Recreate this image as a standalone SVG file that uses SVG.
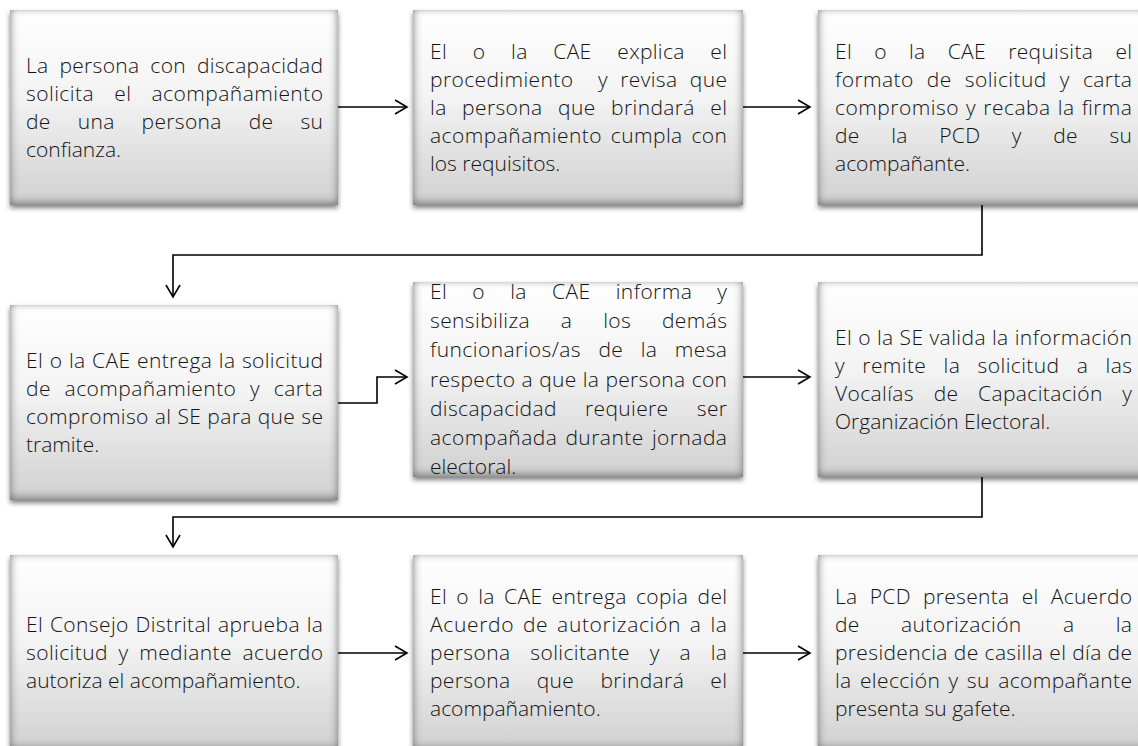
<svg xmlns="http://www.w3.org/2000/svg" width="1138" height="746" viewBox="0 0 1138 746">
<style>
.box{fill:url(#g);filter:url(#bx)}
.t{font-family:"Open Sans","Liberation Sans",sans-serif;font-size:21px;font-weight:300;fill:#141414}
.c{fill:none;stroke:#000;stroke-width:1.6;marker-end:url(#ah)}
</style>
<defs>
<linearGradient id="g" x1="0" y1="0" x2="0" y2="1">
<stop offset="0" stop-color="#ffffff"/>
<stop offset="0.45" stop-color="#f3f3f3"/>
<stop offset="1" stop-color="#d0d0d0"/>
</linearGradient>
<filter id="bx" x="-0.06" y="-0.1" width="1.12" height="1.22" color-interpolation-filters="sRGB">
<feGaussianBlur in="SourceAlpha" stdDeviation="2.5" result="b"/>
<feOffset in="b" dx="0" dy="3" result="ob"/>
<feFlood flood-color="#000" flood-opacity="0.5" result="c"/>
<feComposite in="c" in2="ob" operator="in" result="shadow"/>
<feComponentTransfer in="SourceAlpha" result="inv"><feFuncA type="table" tableValues="1 0"/></feComponentTransfer>
<feGaussianBlur in="inv" stdDeviation="4" result="ib"/>
<feOffset in="ib" dx="0" dy="-2" result="iob"/>
<feFlood flood-color="#6a6a6a" flood-opacity="0.9" result="c2"/>
<feComposite in="c2" in2="iob" operator="in" result="ish"/>
<feComposite in="ish" in2="SourceAlpha" operator="in" result="inner"/>
<feMerge><feMergeNode in="shadow"/><feMergeNode in="SourceGraphic"/><feMergeNode in="inner"/></feMerge>
</filter>
<marker id="ah" markerUnits="userSpaceOnUse" markerWidth="16" markerHeight="18" refX="13" refY="8" orient="auto">
<path d="M1,1 L13,8 L1,15" fill="none" stroke="#000" stroke-width="1.6"/>
</marker>
</defs>
<rect width="1138" height="746" fill="#fff"/>

<g id="n1">
<rect class="box" x="10" y="10" width="328" height="195"/>
<text class="t"><tspan x="26" y="72.5" word-spacing="5.1" textLength="297" lengthAdjust="spacing">La persona con discapacidad</tspan><tspan x="26" y="100.5" word-spacing="14.3" textLength="297" lengthAdjust="spacing">solicita el acompañamiento</tspan><tspan x="26" y="128.5" word-spacing="21.2" textLength="297" lengthAdjust="spacing">de una persona de su</tspan><tspan x="26" y="156.5">confianza.</tspan></text>
</g>

<g id="n2">
<rect class="box" x="413" y="10" width="330" height="195"/>
<text class="t"><tspan x="430" y="58.5" word-spacing="19.9" textLength="297" lengthAdjust="spacing">El o la CAE explica el</tspan></text>
<text class="t" xml:space="preserve"><tspan x="430" y="86.5" word-spacing="6.4" textLength="297" lengthAdjust="spacing">procedimiento  y revisa que</tspan></text>
<text class="t"><tspan x="430" y="114.5" word-spacing="9.6" textLength="297" lengthAdjust="spacing">la persona que brindará el</tspan><tspan x="430" y="142.5" word-spacing="2.8" textLength="297" lengthAdjust="spacing">acompañamiento cumpla con</tspan><tspan x="430" y="170.5">los requisitos.</tspan></text>
</g>

<g id="n3">
<rect class="box" x="818" y="10" width="330" height="195"/>
<text class="t"><tspan x="835" y="58.5" word-spacing="16.4" textLength="297" lengthAdjust="spacing">El o la CAE requisita el</tspan><tspan x="835" y="86.5" word-spacing="7.3" textLength="297" lengthAdjust="spacing">formato de solicitud y carta</tspan><tspan x="835" y="114.5" word-spacing="1.2" textLength="297" lengthAdjust="spacing">compromiso y recaba la firma</tspan><tspan x="835" y="142.5" word-spacing="25.8" textLength="297" lengthAdjust="spacing">de la PCD y de su</tspan><tspan x="835" y="170.5">acompañante.</tspan></text>
</g>

<g id="n4">
<rect class="box" x="10" y="305" width="328" height="195"/>
<text class="t"><tspan x="26" y="367.5" word-spacing="0.8" textLength="297" lengthAdjust="spacing">El o la CAE entrega la solicitud</tspan><tspan x="26" y="395.5" word-spacing="7.8" textLength="297" lengthAdjust="spacing">de acompañamiento y carta</tspan><tspan x="26" y="423.5" word-spacing="0.3" textLength="297" lengthAdjust="spacing">compromiso al SE para que se</tspan><tspan x="26" y="451.5">tramite.</tspan></text>
</g>

<g id="n5">
<rect class="box" x="413" y="282" width="330" height="195"/>
<text class="t"><tspan x="430" y="299" word-spacing="19.3" textLength="297" lengthAdjust="spacing">El o la CAE informa y</tspan><tspan x="430" y="328.2" word-spacing="25" textLength="297" lengthAdjust="spacing">sensibiliza a los demás</tspan><tspan x="430" y="357.4" word-spacing="11.5" textLength="297" lengthAdjust="spacing">funcionarios/as de la mesa</tspan><tspan x="430" y="386.6" word-spacing="0.4" textLength="297" lengthAdjust="spacing">respecto a que la persona con</tspan><tspan x="430" y="415.8" word-spacing="22.5" textLength="297" lengthAdjust="spacing">discapacidad requiere ser</tspan><tspan x="430" y="445" word-spacing="2.3" textLength="297" lengthAdjust="spacing">acompañada durante jornada</tspan><tspan x="430" y="474.2">electoral.</tspan></text>
</g>

<g id="n6">
<rect class="box" x="818" y="282" width="330" height="195"/>
<text class="t"><tspan x="835" y="344.5" word-spacing="0.1" textLength="297" lengthAdjust="spacing">El o la SE valida la información</tspan><tspan x="835" y="372.5" word-spacing="11.5" textLength="297" lengthAdjust="spacing">y remite la solicitud a las</tspan><tspan x="835" y="400.5" word-spacing="13.8" textLength="297" lengthAdjust="spacing">Vocalías de Capacitación y</tspan><tspan x="835" y="428.5">Organización Electoral.</tspan></text>
</g>

<g id="n7">
<rect class="box" x="10" y="555" width="328" height="195"/>
<text class="t"><tspan x="26" y="631.5" word-spacing="1" textLength="297" lengthAdjust="spacing">El Consejo Distrital aprueba la</tspan><tspan x="26" y="659.5" word-spacing="4.8" textLength="297" lengthAdjust="spacing">solicitud y mediante acuerdo</tspan><tspan x="26" y="687.5">autoriza el acompañamiento.</tspan></text>
</g>

<g id="n8">
<rect class="box" x="413" y="555" width="330" height="195"/>
<text class="t"><tspan x="430" y="603.5" word-spacing="3.5" textLength="297" lengthAdjust="spacing">El o la CAE entrega copia del</tspan><tspan x="430" y="631.5" word-spacing="2.7" textLength="297" lengthAdjust="spacing">Acuerdo de autorización a la</tspan><tspan x="430" y="659.5" word-spacing="13.9" textLength="297" lengthAdjust="spacing">persona solicitante y a la</tspan><tspan x="430" y="687.5" word-spacing="20.3" textLength="297" lengthAdjust="spacing">persona que brindará el</tspan><tspan x="430" y="715.5">acompañamiento.</tspan></text>
</g>

<g id="n9">
<rect class="box" x="818" y="555" width="330" height="195"/>
<text class="t"><tspan x="835" y="603.5" word-spacing="6.5" textLength="297" lengthAdjust="spacing">La PCD presenta el Acuerdo</tspan><tspan x="835" y="631.5" word-spacing="35.5" textLength="297" lengthAdjust="spacing">de autorización a la</tspan><tspan x="835" y="659.5" word-spacing="0.2" textLength="297" lengthAdjust="spacing">presidencia de casilla el día de</tspan><tspan x="835" y="687.5" word-spacing="2.5" textLength="297" lengthAdjust="spacing">la elección y su acompañante</tspan><tspan x="835" y="715.5">presenta su gafete.</tspan></text>
</g>

<g id="connectors">
<path class="c" d="M338,107 H407"/>
<path class="c" d="M743,107 H810"/>
<path class="c" d="M982,205 V255 H173 V297"/>
<path class="c" d="M338,403 H377 V377 H407"/>
<path class="c" d="M743,377 H810"/>
<path class="c" d="M982,477 V517 H173 V547"/>
<path class="c" d="M338,653 H407"/>
<path class="c" d="M743,653 H810"/>
</g>
</svg>
